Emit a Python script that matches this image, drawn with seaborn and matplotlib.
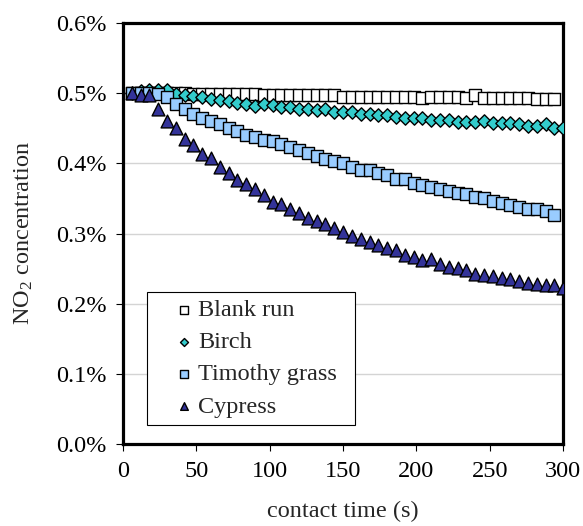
import pandas as pd
import matplotlib.pyplot as plt
import seaborn as sns
from matplotlib.ticker import PercentFormatter
from matplotlib.legend_handler import HandlerPathCollection

sns.set_style("white")
plt.rcParams['font.family'] = ['Liberation Serif', 'DejaVu Serif']
plt.rcParams['mathtext.default'] = 'regular'

# -----------------------------
# Data, NO2 in %
# -----------------------------
time_s = [6, 12, 18, 24, 30, 36, 42, 48, 54, 60,
          66, 72, 78, 84, 90, 96, 102, 108, 114, 120,
          126, 132, 138, 144, 150, 156, 162, 168, 174, 180,
          186, 192, 198, 204, 210, 216, 222, 228, 234, 240,
          246, 252, 258, 264, 270, 276, 282, 288, 294, 300]

blank_run = [0.500, 0.500, 0.501, 0.500, 0.500, 0.500, 0.500, 0.499, 0.499, 0.499,
             0.499, 0.499, 0.499, 0.499, 0.499, 0.498, 0.498, 0.498, 0.498, 0.498,
             0.497, 0.497, 0.497, 0.498, 0.495, 0.495, 0.495, 0.495, 0.495, 0.495,
             0.495, 0.495, 0.495, 0.493, 0.495, 0.495, 0.495, 0.495, 0.493, 0.497,
             0.493, 0.493, 0.493, 0.493, 0.493, 0.493, 0.492, 0.492, 0.492]

birch = [0.501, 0.503, 0.504, 0.505, 0.504, 0.499, 0.497, 0.496, 0.494, 0.492,
         0.490, 0.489, 0.486, 0.484, 0.482, 0.484, 0.483, 0.480, 0.480, 0.478,
         0.478, 0.476, 0.477, 0.473, 0.473, 0.473, 0.471, 0.471, 0.469, 0.469,
         0.466, 0.465, 0.465, 0.465, 0.462, 0.462, 0.462, 0.459, 0.459, 0.459,
         0.460, 0.457, 0.457, 0.457, 0.456, 0.453, 0.454, 0.456, 0.451, 0.450]

timothy_grass = [0.500, 0.500, 0.500, 0.499, 0.494, 0.484, 0.477, 0.471, 0.465, 0.460,
                 0.456, 0.450, 0.446, 0.441, 0.437, 0.433, 0.432, 0.427, 0.423, 0.419,
                 0.415, 0.410, 0.407, 0.403, 0.400, 0.395, 0.391, 0.390, 0.386, 0.383,
                 0.378, 0.378, 0.372, 0.369, 0.366, 0.364, 0.360, 0.358, 0.356, 0.352,
                 0.350, 0.347, 0.343, 0.341, 0.338, 0.335, 0.335, 0.332, 0.327]

cypress = [0.500, 0.498, 0.497, 0.477, 0.461, 0.450, 0.435, 0.426, 0.414, 0.408,
           0.395, 0.387, 0.377, 0.370, 0.363, 0.355, 0.345, 0.342, 0.335, 0.329,
           0.322, 0.318, 0.314, 0.308, 0.302, 0.296, 0.292, 0.288, 0.283, 0.280,
           0.276, 0.270, 0.267, 0.262, 0.264, 0.256, 0.252, 0.251, 0.248, 0.243,
           0.241, 0.239, 0.237, 0.235, 0.232, 0.229, 0.228, 0.226, 0.226, 0.222]

series = [
    ("Blank run", blank_run, "s", "white", 72),
    ("Birch", birch, "D", "#33CCCC", 46),
    ("Timothy grass", timothy_grass, "s", "#99CCFF", 72),
    ("Cypress", cypress, "^", "#333399", 85),
]


# legend marker sits near the right end of the handle, like the Excel legend
class RightMarker(HandlerPathCollection):
    def get_xdata(self, legend, xdescent, ydescent, width, height, fontsize):
        x = [-xdescent + 0.82 * width]
        return x, x


# -----------------------------
# Plot
# -----------------------------
fig = plt.figure(figsize=(5.83, 5.26), dpi=100)
ax = fig.add_axes([0.211, 0.156, 0.755, 0.800])

for name, values, marker, color, size in series:
    df = pd.DataFrame({"t": time_s[:len(values)], "c": values})
    sns.scatterplot(data=df, x="t", y="c", marker=marker, color=color, s=size,
                    edgecolor="black", linewidth=1.0, label=name, ax=ax, zorder=3)

ax.set_xlim(0, 300)
ax.set_ylim(0, 0.6)
ax.set_xticks(range(0, 301, 50))
ax.set_yticks([0.0, 0.1, 0.2, 0.3, 0.4, 0.5, 0.6])
ax.yaxis.set_major_formatter(PercentFormatter(decimals=1))

ax.grid(axis="y", color="#d4d4d4", linewidth=1.0)
ax.grid(axis="x", visible=False)
for sp in ax.spines.values():
    sp.set_color("black")
    sp.set_linewidth(2.3)

ax.tick_params(axis="both", direction="out", length=5, width=0.8, color="black",
               labelsize=17.5, labelcolor="black", left=True, bottom=True)
ax.tick_params(axis="y", pad=7)
ax.tick_params(axis="x", pad=7)

ax.set_xlabel("contact time (s)", fontsize=17.5, labelpad=14)
ax.set_ylabel("NO$_2$ concentration", fontsize=17.5, labelpad=15)

leg = ax.legend(loc="lower left", bbox_to_anchor=(0.054, 0.045, 0.473, 0.3),
                mode="expand", fontsize=17.5,
                frameon=True, fancybox=False, framealpha=1, edgecolor="black",
                markerscale=0.6, handlelength=1.5, handletextpad=0.3,
                labelspacing=0.42, borderpad=0.3, borderaxespad=0,
                handler_map={type(ax.collections[0]): RightMarker()})
leg.get_frame().set_linewidth(0.8)
leg.set_zorder(5)

plt.savefig("out.png", dpi=100)
plt.close()
